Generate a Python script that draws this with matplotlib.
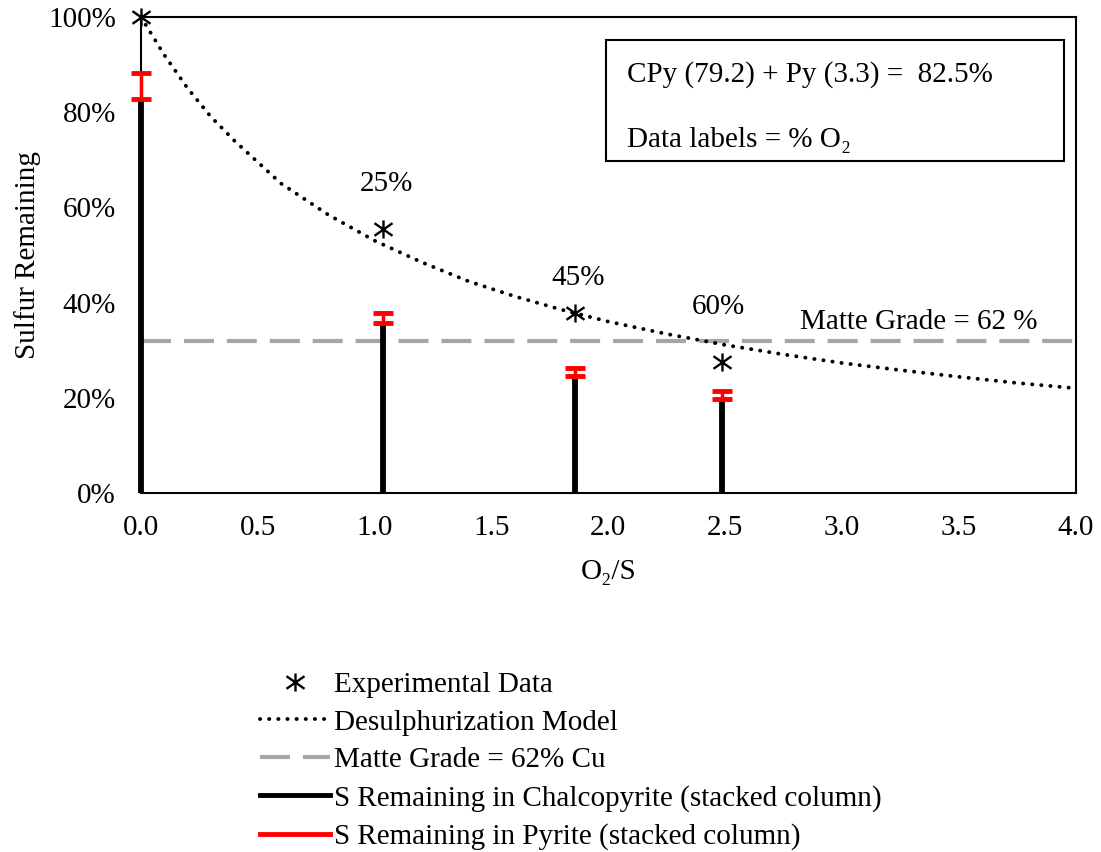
import numpy as np
import matplotlib.pyplot as plt
from matplotlib.path import Path
from matplotlib.lines import Line2D
from matplotlib.patches import Rectangle

plt.rcParams["font.family"] = ["Liberation Serif", "DejaVu Serif"]
plt.rcParams["font.size"] = 21

# ---------------------------------------------------------
# Datos
# ---------------------------------------------------------
o2_s = [0.0, 1.034, 1.857, 2.487]            # O2/S de cada ensayo
s_exp = [100.0, 55.4, 37.9, 27.5]            # azufre remanente medido (%)
pct_o2 = ["", "25%", "45%", "60%"]           # etiquetas (% O2)

s_cpy = [82.8, 35.8, 24.6, 19.7]             # S en calcopirita (%)
s_py = [5.5, 2.1, 1.6, 1.7]                  # S en pirita (%)

model_x = [0.0, 0.1, 0.2, 0.3, 0.4, 0.5, 0.6, 0.8, 1.0, 1.2, 1.4, 1.6, 1.8,
           2.0, 2.25, 2.5, 2.75, 3.0, 3.25, 3.5, 3.75, 4.0]
model_y = [100.0, 92.0, 85.0, 79.0, 74.0, 69.5, 65.0, 58.5, 53.0, 48.5, 44.5,
           41.3, 38.5, 36.0, 33.4, 31.1, 29.1, 27.3, 25.8, 24.4, 23.1, 22.0]

matte_grade = 32.0                           # % S para mata de 62% Cu

# marcador tipo "estrella" de Excel: X + línea vertical
star = Path([(0, -1), (0, 1), (-1, -0.7), (1, 0.7), (-1, 0.7), (1, -0.7)],
            [Path.MOVETO, Path.LINETO, Path.MOVETO, Path.LINETO, Path.MOVETO, Path.LINETO])

dotted = (0, (0.05, 2.3))
dashed = (0, (7.2, 3.1))

# ---------------------------------------------------------
# Gráfico
# ---------------------------------------------------------
fig = plt.figure(figsize=(11.01, 8.52), dpi=100)
ax = fig.add_axes([0.128, 0.4214, 0.849, 0.5587])

# columnas apiladas: calcopirita (negro) + pirita (rojo)
ax.vlines(o2_s, 0, s_cpy, color="black", lw=4.2, zorder=3, clip_on=False)
py_mid = [c + p / 2 for c, p in zip(s_cpy, s_py)]
eb = ax.errorbar(o2_s, py_mid, yerr=[p / 2 for p in s_py], fmt="none",
                 ecolor="red", elinewidth=2.5, capsize=7, capthick=3.5, zorder=4)
for art in eb.lines[1] + eb.lines[2]:
    art.set_clip_on(False)

ax.axhline(matte_grade, color="#a6a6a6", lw=3, ls=dashed, zorder=2)
ax.plot(model_x, model_y, color="black", lw=2.8, ls=dotted,
        dash_capstyle="round", zorder=2)
ax.plot(o2_s, s_exp, ls="none", marker=star, ms=13, mew=1.7, color="black",
        clip_on=False, zorder=5)

label_pos = [(0, 0), (1.05, 65.0), (1.87, 45.2), (2.47, 39.0)]
for (lx, ly), lab in zip(label_pos, pct_o2):
    if lab:
        ax.text(lx, ly, lab, ha="center", va="center")

ax.text(3.33, 36.0, "Matte Grade = 62 %", ha="center", va="center")

# cuadro de notas
ax.add_patch(Rectangle((0.4973, 0.6975), 0.4898, 0.2542, transform=ax.transAxes,
                       fc="white", ec="black", lw=1.5, zorder=6))
ax.text(0.5198, 0.878, "CPy (79.2) + Py (3.3) =  82.5%", transform=ax.transAxes,
        ha="left", va="center", zorder=7)
ax.text(0.5198, 0.742, "Data labels = % O₂", transform=ax.transAxes,
        ha="left", va="center", zorder=7)

ax.set_xlim(0, 4.0)
ax.set_ylim(0, 100)
ax.set_xticks(np.arange(0, 4.01, 0.5))
ax.set_xticklabels([f"{v:.1f}" for v in np.arange(0, 4.01, 0.5)])
ax.set_yticks(np.arange(0, 101, 20))
ax.set_yticklabels([f"{v}%" for v in range(0, 101, 20)])
ax.tick_params(axis="y", length=0, pad=18)
ax.tick_params(axis="x", length=0, pad=16)
for sp in ax.spines.values():
    sp.set_linewidth(1.5)

ax.set_xlabel("O₂/S", labelpad=13)
ax.set_ylabel("Sulfur Remaining", labelpad=5)

handles = [
    Line2D([], [], ls="none", marker=star, ms=13, mew=1.7, color="black"),
    Line2D([], [], color="black", lw=2.8, ls=dotted, dash_capstyle="round"),
    Line2D([], [], color="#a6a6a6", lw=3, ls=dashed),
    Line2D([], [], color="black", lw=3.5),
    Line2D([], [], color="red", lw=3.5),
]
labels = [
    "Experimental Data",
    "Desulphurization Model",
    "Matte Grade = 62% Cu",
    "S Remaining in Chalcopyrite (stacked column)",
    "S Remaining in Pyrite (stacked column)",
]
fig.legend(handles, labels, loc="upper left", bbox_to_anchor=(0.223, 0.229),
           frameon=False, handlelength=2.4, handletextpad=0.15,
           labelspacing=0.39, borderpad=0)

fig.savefig("out.png", dpi=100)
